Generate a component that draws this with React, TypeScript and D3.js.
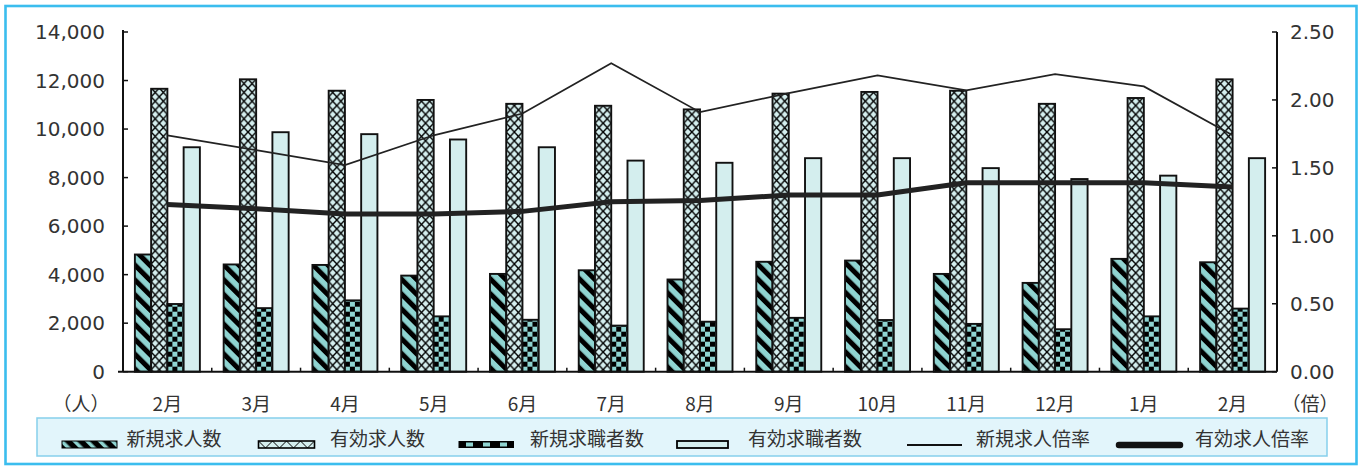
import React, { useEffect } from "react";
import * as d3 from "d3";

const months = ["2月", "3月", "4月", "5月", "6月", "7月", "8月", "9月", "10月", "11月", "12月", "1月", "2月"];
const newOffers = [4830, 4420, 4400, 3960, 4030, 4180, 3800, 4530, 4580, 4030, 3660, 4650, 4510];
const activeOffers = [11660, 12050, 11580, 11200, 11040, 10960, 10810, 11460, 11530, 11580, 11040, 11280, 12050];
const newSeekers = [2790, 2620, 2940, 2280, 2140, 1900, 2060, 2220, 2130, 1970, 1750, 2280, 2600];
const activeSeekers = [9250, 9870, 9790, 9570, 9250, 8700, 8610, 8800, 8800, 8390, 7940, 8080, 8800];
const newRatio = [1.74, 1.63, 1.52, 1.74, 1.9, 2.27, 1.91, 2.05, 2.18, 2.07, 2.19, 2.1, 1.74];
const activeRatio = [1.23, 1.2, 1.16, 1.16, 1.18, 1.25, 1.26, 1.3, 1.3, 1.39, 1.39, 1.39, 1.36];
const leftTicks = [0, 2000, 4000, 6000, 8000, 10000, 12000, 14000];
const rightTicks = [0, 0.5, 1, 1.5, 2, 2.5];
const legendLabels = ["新規求人数", "有効求人数", "新規求職者数", "有効求職者数", "新規求人倍率", "有効求人倍率"];

const W = 1365;
const H = 466;
const X0 = 123;
const X1 = 1277;
const YT = 32;
const YB = 371.7;
const TEAL = "#8fd4d1";
const LIGHT = "#d4eeee";
const NUM_FONT = "'DejaVu Sans', sans-serif";
const JP_FONT = "'Noto Sans CJK JP', sans-serif";

export default function App() {
  useEffect(() => {
    document.body.style.margin = "0";
  }, []);

  const idx = months.map((_, i) => i);
  const x = d3.scaleBand<number>().domain(idx).range([X0, X1]).paddingInner(0).paddingOuter(0);
  const bw = x.bandwidth();
  const groupW = 65;
  const series = ["a", "b", "c", "d"];
  const inner = d3.scaleBand<string>().domain(series).range([(bw - groupW) / 2, (bw + groupW) / 2]);
  const ib = inner.bandwidth();
  const yL = d3.scaleLinear().domain([0, 14000]).range([YB, YT]);
  const yR = d3.scaleLinear().domain([0, 2.5]).range([YB, YT]);
  const fmtL = d3.format(",");
  const fmtR = d3.format(".2f");
  const cx = (i: number) => (x(i) as number) + bw / 2;

  const lineGen = d3
    .line<number>()
    .x((_, i) => cx(i))
    .y((d) => yR(d));

  const seriesData = [
    { key: "a", vals: newOffers },
    { key: "b", vals: activeOffers },
    { key: "c", vals: newSeekers },
    { key: "d", vals: activeSeekers },
  ];

  const fillFor = (key: string, i: number) => {
    if (key === "a") return "url(#stripe)";
    if (key === "b") return `url(#cross-${i})`;
    if (key === "c") return `url(#check-${i})`;
    return LIGHT;
  };

  const legendY = 441;
  const legendH = 7;
  const legendTextY = 437;

  return (
    <svg width={W} height={H} style={{ position: "absolute", left: 0, top: 0, display: "block" }}>
      <defs>
        <pattern id="stripe" patternUnits="userSpaceOnUse" width={10.5} height={10.5} patternTransform="rotate(-45)">
          <rect x={0} y={0} width={10.5} height={10.5} fill={TEAL} />
          <rect x={0} y={0} width={5} height={10.5} fill="#000" />
        </pattern>
        {idx.map((i) => {
          const bx = (x(i) as number) + (inner("b") as number);
          return (
            <pattern key={"c" + i} id={`cross-${i}`} patternUnits="userSpaceOnUse" x={bx} y={0} width={ib / 2} height={8.8}>
              <rect x={0} y={0} width={ib / 2} height={8.8} fill={LIGHT} />
              <path d={`M0,0L${ib / 2},8.8M${ib / 2},0L0,8.8`} stroke="#000" strokeWidth={1.4} />
            </pattern>
          );
        })}
        {idx.map((i) => {
          const bx = (x(i) as number) + (inner("c") as number);
          return (
            <pattern key={"k" + i} id={`check-${i}`} patternUnits="userSpaceOnUse" x={bx} y={YB} width={10} height={10}>
              <rect x={0} y={0} width={10} height={10} fill={TEAL} />
              <rect x={0} y={0} width={5} height={5} fill="#000" />
              <rect x={5} y={5} width={5} height={5} fill="#000" />
            </pattern>
          );
        })}
        <pattern id="legstripe" patternUnits="userSpaceOnUse" width={9} height={9} patternTransform="rotate(-45)">
          <rect x={0} y={0} width={9} height={9} fill="#000" />
          <rect x={0} y={0} width={3.5} height={9} fill={TEAL} />
        </pattern>
      </defs>

      <rect x={0} y={0} width={W} height={H} fill="#fff" />
      <rect x={5.5} y={6} width={1351} height={458} fill="#fff" stroke="#3bbdee" strokeWidth={2.6} />

      {/* bars */}
      {seriesData.map((s) =>
        s.vals.map((v, i) => {
          const bx = (x(i) as number) + (inner(s.key) as number);
          return (
            <rect
              key={s.key + i}
              x={bx}
              y={yL(v)}
              width={ib}
              height={YB - yL(v)}
              fill={fillFor(s.key, i)}
              stroke="#111"
              strokeWidth={1.9}
            />
          );
        })
      )}

      {/* lines */}
      <path d={lineGen(newRatio) || ""} fill="none" stroke="#222" strokeWidth={1.8} />
      <path d={lineGen(activeRatio) || ""} fill="none" stroke="#222" strokeWidth={5} strokeLinejoin="round" />

      {/* axes */}
      <line x1={X0 - 5} x2={X1} y1={YB} y2={YB} stroke="#111" strokeWidth={2} />
      {idx.slice(1).map((i) => (
        <line key={"xt" + i} x1={x(i) as number} x2={x(i) as number} y1={YB} y2={YB - 4} stroke="#111" strokeWidth={1.5} />
      ))}
      <line x1={X0} x2={X0} y1={YT - 2} y2={YB} stroke="#111" strokeWidth={2} />
      {leftTicks.map((t) => (
        <g key={"lt" + t}>
          <line x1={X0} x2={X0 + 5} y1={yL(t)} y2={yL(t)} stroke="#111" strokeWidth={1.5} />
          <text x={105} y={yL(t)} textAnchor="end" dominantBaseline="central" fontFamily={NUM_FONT} fontSize={20} fill="#333">
            {fmtL(t)}
          </text>
        </g>
      ))}
      <line x1={X1} x2={X1} y1={YT} y2={YB} stroke="#111" strokeWidth={2} />
      {rightTicks.map((t) => (
        <g key={"rt" + t}>
          <line x1={X1 - 5} x2={X1} y1={yR(t)} y2={yR(t)} stroke="#111" strokeWidth={1.5} />
          <text x={1290} y={yR(t)} textAnchor="start" dominantBaseline="central" fontFamily={NUM_FONT} fontSize={20} fill="#333">
            {fmtR(t)}
          </text>
        </g>
      ))}

      {/* x labels */}
      {months.map((m, i) => (
        <text key={"xl" + i} x={cx(i)} y={402} textAnchor="middle" dominantBaseline="central" fontFamily={JP_FONT} fontSize={19} fill="#333">
          {m}
        </text>
      ))}
      <text x={81} y={402} textAnchor="middle" dominantBaseline="central" fontFamily={JP_FONT} fontSize={19} fill="#333">
        （人）
      </text>
      <text x={1310} y={402} textAnchor="middle" dominantBaseline="central" fontFamily={JP_FONT} fontSize={19} fill="#333">
        （倍）
      </text>

      {/* legend */}
      <rect x={37} y={418} width={1290} height={38} fill="#e2f5fb" stroke="#86cfec" strokeWidth={1.5} />
      <rect x={62} y={legendY} width={55} height={legendH} fill="url(#legstripe)" stroke="#000" strokeWidth={1} />
      <rect x={258.5} y={legendY} width={56} height={legendH} fill={LIGHT} stroke="#000" strokeWidth={1.6} />
      <path
        d={d3.range(4).map((k) => {
          const sx = 258.5 + k * 14;
          return `M${sx},${legendY}L${sx + 7},${legendY + legendH}L${sx + 14},${legendY}`;
        }).join("")}
        fill="none"
        stroke="#000"
        strokeWidth={1}
      />
      <rect x={458.5} y={legendY} width={55.5} height={legendH} fill="#000" />
      {d3.range(3).map((k) => (
        <rect key={"sq" + k} x={466 + k * 17} y={legendY + 1.5} width={7} height={4} fill={TEAL} />
      ))}
      <rect x={677} y={legendY} width={51} height={legendH} fill={LIGHT} stroke="#000" strokeWidth={1.8} />
      <line x1={907} x2={962} y1={445} y2={445} stroke="#111" strokeWidth={2} />
      <line x1={1119} x2={1180} y1={445} y2={445} stroke="#111" strokeWidth={6.5} strokeLinecap="round" />
      {[126.5, 330, 530, 748, 976, 1195].map((lx, k) => (
        <text key={"lg" + k} x={lx} y={legendTextY} dominantBaseline="central" fontFamily={JP_FONT} fontSize={19} fill="#333">
          {legendLabels[k]}
        </text>
      ))}
    </svg>
  );
}
